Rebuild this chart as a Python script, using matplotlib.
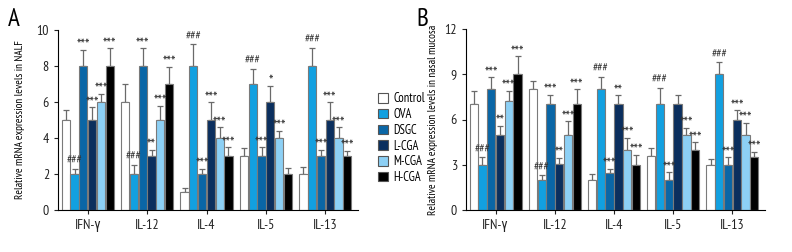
import matplotlib.pyplot as plt
import numpy as np
from matplotlib.patches import Patch

plt.rcParams['font.family'] = ['PT Sans Narrow', 'Roboto Condensed', 'DejaVu Sans']

cytokines = ["IFN-γ", "IL-12", "IL-4", "IL-5", "IL-13"]
groups = ["Control", "OVA", "DSGC", "L-CGA", "M-CGA", "H-CGA"]
colors = ["#ffffff", "#12a0e0", "#0a66a6", "#0b2f5e", "#8dd0f5", "#000000"]

# panel A: NALF, rows = groups, cols = cytokines
nalf_mean = [
    [5, 6, 1, 3, 2],
    [2, 2, 8, 7, 8],
    [8, 8, 2, 3, 3],
    [5, 3, 5, 6, 5],
    [6, 5, 4, 4, 4],
    [8, 7, 3, 2, 3],
]
nalf_err = [
    [0.55, 1.0, 0.2, 0.45, 0.4],
    [0.3, 0.5, 1.2, 0.85, 1.0],
    [0.9, 1.0, 0.3, 0.5, 0.35],
    [0.7, 0.35, 1.0, 0.9, 1.0],
    [0.45, 0.8, 0.6, 0.4, 0.6],
    [1.0, 0.95, 0.5, 0.35, 0.3],
]
nalf_sig = [
    ["", "", "", "", ""],
    ["###", "###", "###", "###", "###"],
    ["***", "***", "***", "***", "***"],
    ["***", "**", "***", "*", "***"],
    ["***", "***", "***", "***", "***"],
    ["***", "***", "***", "", "***"],
]

# panel B: nasal mucosa
muc_mean = [
    [7, 8, 2, 3.55, 3],
    [3, 2, 8, 7, 9],
    [8, 7, 2.45, 2, 3],
    [5, 3.05, 7, 7, 6],
    [7.2, 5, 4, 5, 5],
    [9, 7, 3, 4, 3.5],
]
muc_err = [
    [0.9, 0.55, 0.4, 0.55, 0.4],
    [0.5, 0.3, 0.85, 1.1, 0.8],
    [0.8, 0.65, 0.3, 0.5, 0.5],
    [0.6, 0.4, 0.6, 0.65, 0.6],
    [0.7, 0.9, 0.8, 0.45, 0.8],
    [1.2, 1.0, 0.65, 0.5, 0.35],
]
muc_sig = [
    ["", "", "", "", ""],
    ["###", "###", "###", "###", "###"],
    ["***", "***", "***", "***", "***"],
    ["**", "**", "**", "", "***"],
    ["***", "***", "***", "***", "***"],
    ["***", "***", "***", "***", "***"],
]


def draw_panel(ax, means, errs, sigs, ymax, yticks, ylabel, labx):
    x = np.arange(len(cytokines))
    width = 0.14
    step = 0.148
    for i, g in enumerate(groups):
        pos = x + (i - 2.5) * step
        ax.bar(pos, means[i], width, color=colors[i], edgecolor="#7a7a7a",
               linewidth=0.8, zorder=2)
        ax.errorbar(pos, means[i], yerr=[np.zeros(len(x)), errs[i]], fmt="none",
                    ecolor="#6a6a6a", elinewidth=0.9, capsize=2, capthick=0.9, zorder=1)
        for j in range(len(x)):
            s = sigs[i][j]
            if not s:
                continue
            top = means[i][j] + errs[i][j]
            if s.startswith("#"):
                ax.annotate(s, (pos[j], top), xytext=(0, 3.5), textcoords="offset points",
                            ha="center", va="baseline", fontsize=8.5, color="#333333")
            else:
                ax.annotate(s, (pos[j], top), xytext=(0, 0), textcoords="offset points",
                            ha="center", va="baseline", fontsize=11, color="#333333")
    ax.set_xlim(-0.5, 4.55)
    ax.set_ylim(0, ymax)
    ax.set_yticks(yticks)
    ax.set_xticks(x)
    ax.set_xticklabels(cytokines)
    ax.set_ylabel(ylabel, fontsize=8)
    ax.yaxis.set_label_coords(labx, 0.5)
    ax.spines["top"].set_visible(False)
    ax.spines["right"].set_visible(False)
    ax.tick_params(labelsize=10, length=3, width=0.8, colors="#222222")


fig = plt.figure(figsize=(7.92, 2.52), dpi=100)
ax1 = fig.add_axes([58 / 792, 42 / 252, 300 / 792, 180 / 252])
ax2 = fig.add_axes([466 / 792, 42 / 252, 299 / 792, 181 / 252])

draw_panel(ax1, nalf_mean, nalf_err, nalf_sig, 10, [0, 2, 4, 6, 8, 10],
           "Relative mRNA expression levels in NALF", -0.11)
draw_panel(ax2, muc_mean, muc_err, muc_sig, 12, [0, 3, 6, 9, 12],
           "Relative mRNA expression levels in nasal mucosa", -0.095)

fig.text(8 / 792, 1 - 19 / 252, "A", fontsize=18, va="center")
fig.text(416 / 792, 1 - 19 / 252, "B", fontsize=18, va="center")

handles = [Patch(facecolor=c, edgecolor="#555555", linewidth=0.8) for c in colors]
fig.legend(handles, groups, loc="upper left", bbox_to_anchor=(372 / 792, 1 - 86 / 252),
           frameon=False, fontsize=9, handlelength=0.8, handleheight=0.8,
           handletextpad=0.4, labelspacing=0.22, borderpad=0)

fig.savefig("out.png", dpi=100)
